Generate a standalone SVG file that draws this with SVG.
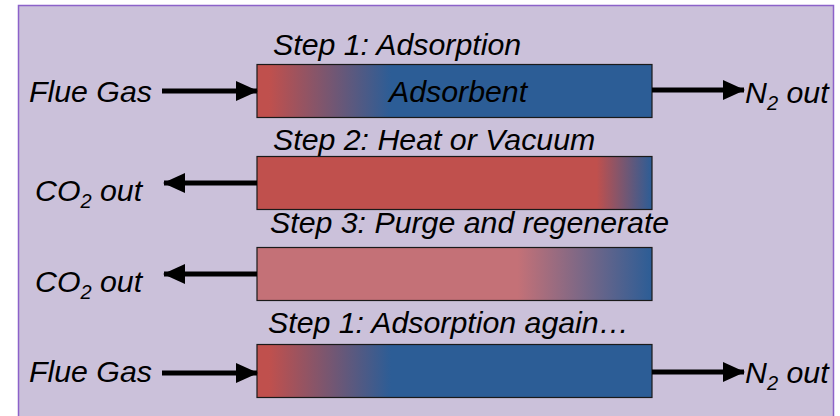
<svg xmlns="http://www.w3.org/2000/svg" width="840" height="416" viewBox="0 0 840 416">
  <style>
    .lbl { font-family: "Liberation Sans", Arial, sans-serif; font-style: italic; font-size: 30.3px; fill: #000; }
    .sub { font-size: 20px; }
    .bed { stroke: #1a1a1a; stroke-width: 1.2; }
    .flow { stroke: #000; stroke-width: 5; fill: none; }
  </style>
  <defs>
    <marker id="head" viewBox="0 0 22 20" refX="21" refY="10" markerWidth="22" markerHeight="20" markerUnits="userSpaceOnUse" orient="auto">
      <path d="M0,0 L22,10 L0,20 Z" fill="#000"/>
    </marker>
    <linearGradient id="gAds" x1="0" y1="0" x2="1" y2="0">
      <stop offset="0" stop-color="#C0504D"/>
      <stop offset="0.03" stop-color="#C0504D"/>
      <stop offset="0.34" stop-color="#2C5D96"/>
      <stop offset="1" stop-color="#2C5D96"/>
    </linearGradient>
    <linearGradient id="gHeat" x1="0" y1="0" x2="1" y2="0">
      <stop offset="0" stop-color="#C0504D"/>
      <stop offset="0.86" stop-color="#C0504D"/>
      <stop offset="1" stop-color="#2C5D96"/>
    </linearGradient>
    <linearGradient id="gPurge" x1="0" y1="0" x2="1" y2="0">
      <stop offset="0" stop-color="#C47177"/>
      <stop offset="0.66" stop-color="#C47177"/>
      <stop offset="1" stop-color="#2C5D96"/>
    </linearGradient>
  </defs>

  <!-- background panel -->
  <rect x="18.5" y="5.5" width="815" height="420" fill="#CBC1DA" stroke="#8C62C9" stroke-width="1.5"/>

  <!-- adsorbent beds -->
  <g id="bed-step1">
    <text class="lbl" x="273" y="55">Step 1: Adsorption</text>
    <rect class="bed" x="257" y="64.5" width="395" height="53" fill="url(#gAds)"/>
    <text class="lbl" x="389" y="102">Adsorbent</text>
  </g>
  <g id="bed-step2">
    <text class="lbl" x="273" y="150">Step 2: Heat or Vacuum</text>
    <rect class="bed" x="257" y="156.5" width="395" height="53" fill="url(#gHeat)"/>
  </g>
  <g id="bed-step3">
    <text class="lbl" x="270" y="233">Step 3: Purge and regenerate</text>
    <rect class="bed" x="257" y="247.5" width="395" height="53" fill="url(#gPurge)"/>
  </g>
  <g id="bed-step1-again">
    <text class="lbl" x="268" y="333">Step 1: Adsorption again…</text>
    <rect class="bed" x="257" y="344.5" width="395" height="53" fill="url(#gAds)"/>
  </g>

  <!-- stream labels -->
  <g id="flue-gas-1"><text class="lbl" x="29" y="102">Flue Gas</text></g>
  <g id="n2-out-1"><text class="lbl" x="745" y="103">N<tspan class="sub" dy="7">2</tspan><tspan dy="-7"> out</tspan></text></g>
  <g id="co2-out-2"><text class="lbl" x="35" y="201">CO<tspan class="sub" dy="7">2</tspan><tspan dy="-7"> out</tspan></text></g>
  <g id="co2-out-3"><text class="lbl" x="35" y="292">CO<tspan class="sub" dy="7">2</tspan><tspan dy="-7"> out</tspan></text></g>
  <g id="flue-gas-4"><text class="lbl" x="29" y="382">Flue Gas</text></g>
  <g id="n2-out-4"><text class="lbl" x="745" y="383">N<tspan class="sub" dy="7">2</tspan><tspan dy="-7"> out</tspan></text></g>

  <!-- flow connectors -->
  <g id="connectors">
    <line class="flow" x1="162" y1="91" x2="257" y2="91" marker-end="url(#head)"/>
    <line class="flow" x1="652" y1="90" x2="744" y2="90" marker-end="url(#head)"/>
    <line class="flow" x1="257" y1="183" x2="164" y2="183" marker-end="url(#head)"/>
    <line class="flow" x1="257" y1="274" x2="164" y2="274" marker-end="url(#head)"/>
    <line class="flow" x1="162" y1="373" x2="257" y2="373" marker-end="url(#head)"/>
    <line class="flow" x1="652" y1="372" x2="744" y2="372" marker-end="url(#head)"/>
  </g>
</svg>
